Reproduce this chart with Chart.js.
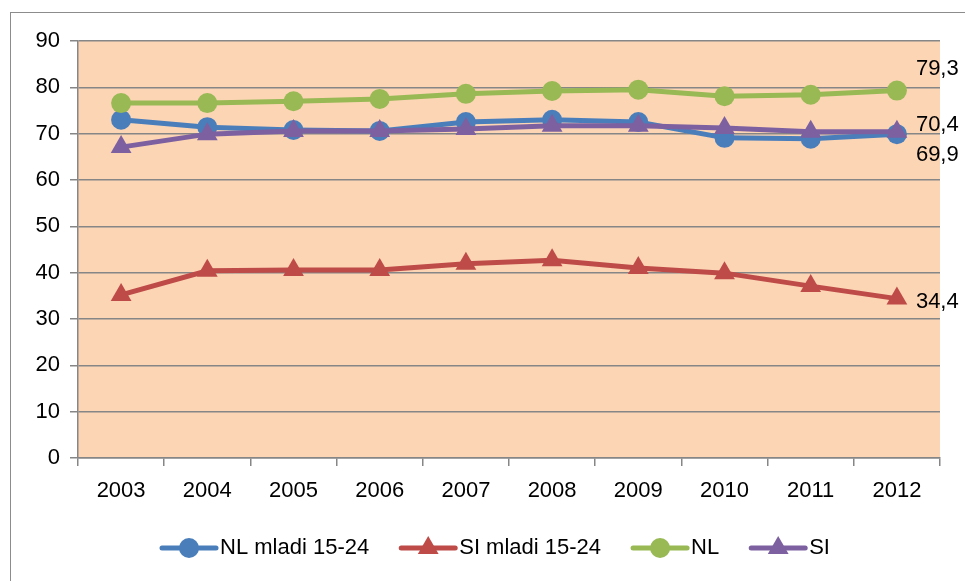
<!DOCTYPE html>
<html>
<head>
<meta charset="utf-8">
<script src="https://cdn.jsdelivr.net/npm/chart.js@4/dist/chart.umd.min.js"></script>
<style>
  html, body { margin: 0; padding: 0; background: #fff; }
  #wrap { width: 965px; height: 581px; }
</style>
</head>
<body>
<div id="wrap"><canvas id="lineChart" width="965" height="581"></canvas></div>
<script>
const years = ['2003', '2004', '2005', '2006', '2007', '2008', '2009', '2010', '2011', '2012'];
const nlYouth = [73.0, 71.4, 70.8, 70.6, 72.5, 73.0, 72.5, 69.1, 68.9, 69.9];
const siYouth = [35.2, 40.4, 40.6, 40.6, 41.9, 42.7, 41.0, 39.9, 37.1, 34.4];
const nlTotal = [76.6, 76.6, 77.0, 77.5, 78.6, 79.2, 79.5, 78.1, 78.4, 79.3];
const siTotal = [67.1, 69.9, 70.6, 70.6, 71.0, 71.7, 71.7, 71.2, 70.4, 70.4];
const yTicks = [0, 10, 20, 30, 40, 50, 60, 70, 80, 90];

const FONT = '"Liberation Sans", Arial, sans-serif';
const FONT_SIZE = 22;

function series(label, data, color, style, order) {
  const r = style === 'triangle' ? 12 : 10;
  return {
    label: label,
    data: data,
    order: order,
    borderColor: color,
    backgroundColor: color,
    borderWidth: 5,
    pointStyle: style,
    pointRadius: r,
    pointHoverRadius: r,
    pointBorderWidth: 0,
    tension: 0
  };
}

// peach plot area + grey outer frame
const backdrop = {
  id: 'backdrop',
  beforeDraw(chart) {
    const { ctx, chartArea } = chart;
    ctx.save();
    ctx.fillStyle = '#fcd5b5';
    ctx.fillRect(chartArea.left, chartArea.top, chartArea.right - chartArea.left, chartArea.bottom - chartArea.top);
    ctx.strokeStyle = '#8c8c8c';
    ctx.lineWidth = 1;
    ctx.strokeRect(10.5, 12.5, 1000, 1000);
    ctx.restore();
  }
};

// value label next to the last point of each line
const lastLabels = {
  id: 'lastLabels',
  afterDatasetsDraw(chart, args, opts) {
    const ctx = chart.ctx;
    ctx.save();
    ctx.font = FONT_SIZE + 'px ' + FONT;
    ctx.fillStyle = '#000';
    ctx.textBaseline = 'middle';
    ctx.textAlign = 'left';
    chart.data.datasets.forEach((ds, i) => {
      const meta = chart.getDatasetMeta(i);
      const last = meta.data[meta.data.length - 1];
      const value = ds.data[ds.data.length - 1];
      const dy = opts.offsets[i] || 0;
      ctx.fillText(value.toFixed(1).replace('.', ','), last.x + 19, last.y + dy);
    });
    ctx.restore();
  }
};

// legend: line with marker in the middle, like the original
const lineLegend = {
  id: 'lineLegend',
  afterDraw(chart) {
    const ctx = chart.ctx;
    const lineLen = 58, textGap = 2, itemGap = 30, y = 548, centerX = 495;
    ctx.save();
    ctx.font = FONT_SIZE + 'px ' + FONT;
    const items = chart.data.datasets.map(ds => ({ ds: ds, w: ctx.measureText(ds.label).width }));
    let total = items.reduce((s, it) => s + lineLen + textGap + it.w, 0) + itemGap * (items.length - 1);
    let x = centerX - total / 2;
    items.forEach(it => {
      ctx.strokeStyle = it.ds.borderColor;
      ctx.lineWidth = 5;
      ctx.lineCap = 'round';
      ctx.beginPath();
      ctx.moveTo(x + 2, y);
      ctx.lineTo(x + lineLen - 2, y);
      ctx.stroke();
      ctx.fillStyle = it.ds.backgroundColor;
      Chart.helpers.drawPoint(ctx, { pointStyle: it.ds.pointStyle, radius: it.ds.pointRadius, borderWidth: 0 }, x + lineLen / 2, y);
      ctx.fillStyle = '#000';
      ctx.textBaseline = 'middle';
      ctx.textAlign = 'left';
      ctx.fillText(it.ds.label, x + lineLen + textGap, y);
      x += lineLen + textGap + it.w + itemGap;
    });
    ctx.restore();
  }
};

new Chart(document.getElementById('lineChart'), {
  type: 'line',
  data: {
    labels: years,
    datasets: [
      series('NL mladi 15-24', nlYouth, '#4a7ebb', 'circle', 4),
      series('SI mladi 15-24', siYouth, '#be4b48', 'triangle', 3),
      series('NL', nlTotal, '#98b954', 'circle', 2),
      series('SI', siTotal, '#7d60a0', 'triangle', 1)
    ]
  },
  options: {
    responsive: false,
    animation: false,
    layout: { padding: { left: 0, top: 41, right: 25, bottom: 73 } },
    plugins: {
      legend: { display: false },
      tooltip: { enabled: false },
      lastLabels: { offsets: [21, 3, -22, -7] }
    },
    scales: {
      x: {
        offset: true,
        grid: { display: true, offset: true, drawOnChartArea: false, drawTicks: true, tickLength: 8, color: '#868686', lineWidth: 1.5 },
        border: { display: true, color: '#868686', width: 1.5 },
        ticks: { color: '#000', font: { family: FONT, size: FONT_SIZE }, padding: 12, maxRotation: 0, autoSkip: false },
        afterFit(scale) { scale.height = 50; }
      },
      y: {
        min: 0,
        max: 90,
        afterBuildTicks(scale) { scale.ticks = yTicks.map(v => ({ value: v })); },
        grid: { color: '#868686', lineWidth: 1.5, tickLength: 8 },
        border: { display: true, color: '#868686', width: 1.5 },
        ticks: { color: '#000', font: { family: FONT, size: FONT_SIZE }, padding: 10 },
        afterFit(scale) { scale.width = 78; }
      }
    }
  },
  plugins: [backdrop, lastLabels, lineLegend]
});
</script>
</body>
</html>
